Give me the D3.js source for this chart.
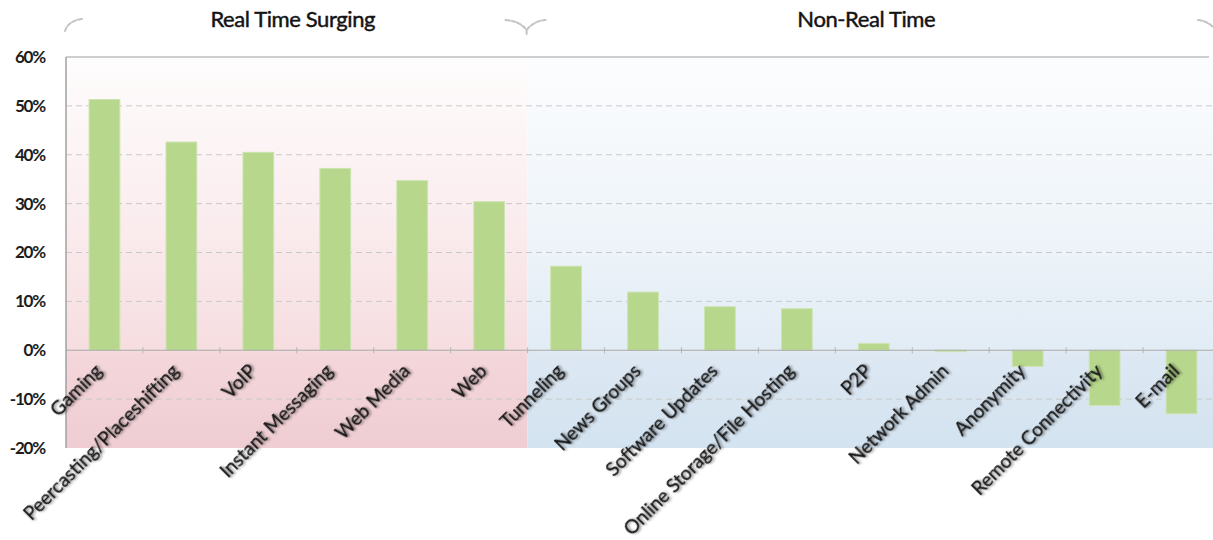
<!DOCTYPE html>
<html>
<head>
<meta charset="utf-8">
<script src="https://cdn.jsdelivr.net/npm/d3@7"></script>
<style>
  html, body { margin: 0; padding: 0; background: #fff; }
  svg { display: block; }
</style>
</head>
<body>
<svg id="chart" width="1213" height="540"></svg>
<script>
// Application categories, in display order
const categories = [
  "Gaming", "Peercasting/Placeshifting", "VoIP", "Instant Messaging", "Web Media", "Web",
  "Tunneling", "News Groups", "Software Updates", "Online Storage/File Hosting", "P2P",
  "Network Admin", "Anonymity", "Remote Connectivity", "E-mail"
];
// Growth per category (%)
const growth = [51.3, 42.6, 40.5, 37.2, 34.7, 30.4, 17.2, 11.9, 8.9, 8.5, 1.4, -0.3, -3.3, -11.3, -13.0];
// Category groups: name and number of categories in each
const groupNames = ["Real Time Surging", "Non-Real Time"];
const groupSizes = [6, 9];
// Value axis ticks
const yTicks = [-20, -10, 0, 10, 20, 30, 40, 50, 60];

const svg = d3.select("#chart");
const W = 1213;
const plotLeft = 66, plotRight = 1220, plotTop = 57, plotBottom = 448;

const x = d3.scaleBand().domain(categories).range([plotLeft, plotRight]).paddingInner(0.6).paddingOuter(0.3);
const step = x.step();
const y = d3.scaleLinear().domain([-20, 60]).range([plotBottom, plotTop]);

const defs = svg.append("defs");
function vGrad(id, stops) {
  const g = defs.append("linearGradient").attr("id", id)
    .attr("x1", 0).attr("y1", 0).attr("x2", 0).attr("y2", 1);
  stops.forEach(([o, c]) => g.append("stop").attr("offset", o).attr("stop-color", c));
}
vGrad("bgReal", [[0, "#fefdfd"], [0.45, "#faebed"], [0.75, "#f6dde0"], [0.76, "#f4d7db"], [1, "#efcdd2"]]);
vGrad("bgNon", [[0, "#fcfdfe"], [0.45, "#eef4f9"], [0.75, "#e2ecf5"], [0.76, "#dde8f3"], [1, "#d3e3f0"]]);

const shadow = defs.append("filter").attr("id", "txtShadow")
  .attr("x", "-20%").attr("y", "-50%").attr("width", "140%").attr("height", "200%");
shadow.append("feDropShadow").attr("dx", 1.5).attr("dy", 1.5).attr("stdDeviation", 1.3)
  .attr("flood-color", "#000").attr("flood-opacity", 0.45);

const lineShadow = defs.append("filter").attr("id", "lineShadow")
  .attr("x", "-5%").attr("y", "-200%").attr("width", "110%").attr("height", "500%");
lineShadow.append("feDropShadow").attr("dx", 0).attr("dy", 1.5).attr("stdDeviation", 1)
  .attr("flood-color", "#000").attr("flood-opacity", 0.35);

// Group background panels
let start = 0;
const groups = groupSizes.map((n, i) => {
  const x0 = plotLeft + step * start;
  const x1 = Math.min(plotLeft + step * (start + n), W);
  start += n;
  return { name: groupNames[i], x0, x1 };
});
svg.selectAll("rect.panel").data(groups).join("rect")
  .attr("class", "panel")
  .attr("x", d => d.x0).attr("y", plotTop)
  .attr("width", d => d.x1 - d.x0).attr("height", plotBottom - plotTop)
  .attr("fill", (d, i) => i === 0 ? "url(#bgReal)" : "url(#bgNon)");

// Dashed gridlines
svg.append("g").selectAll("line").data(yTicks.filter(t => t !== 0 && t !== 60 && t !== -20)).join("line")
  .attr("x1", plotLeft).attr("x2", W)
  .attr("y1", d => y(d)).attr("y2", d => y(d))
  .attr("stroke", "#c9c9c9").attr("stroke-width", 1).attr("stroke-dasharray", "6,4");

// Bars
svg.append("g").selectAll("rect").data(categories).join("rect")
  .attr("x", d => x(d))
  .attr("width", x.bandwidth())
  .attr("y", (d, i) => y(Math.max(0, growth[i])))
  .attr("height", (d, i) => Math.abs(y(growth[i]) - y(0)))
  .attr("fill", "#b6d78c")
  .attr("stroke", "#cde4b1").attr("stroke-width", 1);

// Zero line with ticks at category boundaries
svg.append("line").attr("x1", plotLeft).attr("x2", W).attr("y1", y(0)).attr("y2", y(0))
  .attr("stroke", "#a9a9a9").attr("stroke-width", 1.2);
svg.append("g").selectAll("line").data(d3.range(1, categories.length)).join("line")
  .attr("x1", i => plotLeft + step * i).attr("x2", i => plotLeft + step * i)
  .attr("y1", y(0) - 3).attr("y2", y(0) + 3)
  .attr("stroke", "#b5b5b5").attr("stroke-width", 1);

// Frame: top, left and bottom lines
svg.append("line").attr("x1", plotLeft).attr("x2", 1209).attr("y1", plotTop).attr("y2", plotTop)
  .attr("stroke", "#a0a0a0").attr("stroke-width", 1.2);
svg.append("line").attr("x1", plotLeft).attr("x2", plotLeft).attr("y1", plotTop).attr("y2", plotBottom)
  .attr("stroke", "#a0a0a0").attr("stroke-width", 1.5);
svg.append("line").attr("x1", plotLeft).attr("x2", W).attr("y1", plotBottom).attr("y2", plotBottom)
  .attr("stroke", "#7a7a7a").attr("stroke-width", 2.5).attr("filter", "url(#lineShadow)");

// Y axis labels
const yAxis = d3.axisLeft(y).tickValues(yTicks).tickSize(0).tickPadding(0)
  .tickFormat(d => d + "%");
const yg = svg.append("g").attr("transform", `translate(45,0)`).call(yAxis);
yg.select(".domain").remove();
yg.selectAll("text")
  .attr("font-family", "Lato, 'Open Sans', sans-serif")
  .attr("font-size", 17).attr("font-weight", 700)
  .attr("letter-spacing", -1.2)
  .attr("fill", "#1c1c1c");

// Category labels, rotated
svg.append("g").selectAll("text").data(categories).join("text")
  .attr("transform", d => `translate(${x(d) + x.bandwidth() / 2 - 1},${y(0) + 22}) rotate(-45)`)
  .attr("text-anchor", "end")
  .attr("font-family", "Lato, 'Open Sans', sans-serif")
  .attr("font-size", 19)
  .attr("fill", "#141414")
  .attr("stroke", "#141414").attr("stroke-width", 0.25)
  .attr("filter", "url(#txtShadow)")
  .text(d => d);

// Group titles
svg.append("g").selectAll("text").data(groups).join("text")
  .attr("x", d => (d.x0 + d.x1) / 2 - 4)
  .attr("y", 27)
  .attr("text-anchor", "middle")
  .attr("font-family", "Lato, 'Open Sans', sans-serif")
  .attr("font-size", 22)
  .attr("letter-spacing", -0.4)
  .attr("fill", "#141414")
  .attr("stroke", "#141414").attr("stroke-width", 0.45)
  .text(d => d.name);

// Faint brace ends over each group
const brace = svg.append("g").attr("fill", "none").attr("stroke", "#c4c4c4")
  .attr("stroke-width", 2).attr("stroke-dasharray", "4,2").attr("stroke-linecap", "round");
const b0 = groups[0].x0, bm = groups[0].x1, b1 = groups[1].x1;
brace.append("path").attr("d", `M${b0 - 1},31 Q${b0 + 2},21 ${b0 + 16},19`);
brace.append("path").attr("d", `M${bm - 22},20 Q${bm - 8},21 ${bm - 1},30 Q${bm + 6},21 ${bm + 18},20 M${bm - 1},30 L${bm - 1},34`);
brace.append("path").attr("d", `M${b1 - 15},20 Q${b1 - 6},21 ${b1},27`);
</script>
</body>
</html>
